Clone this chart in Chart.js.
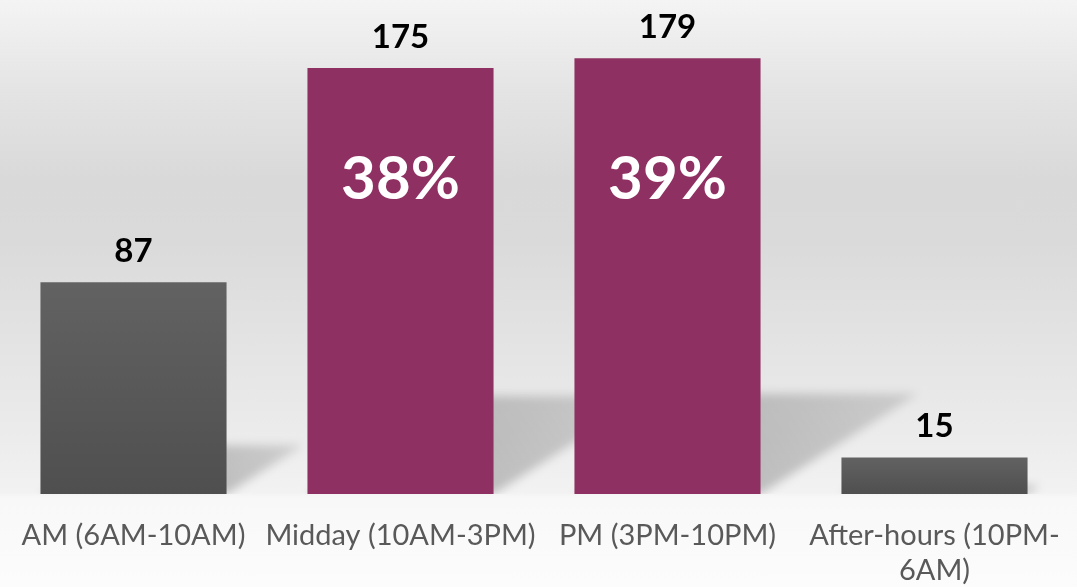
<!DOCTYPE html>
<html>
<head>
<meta charset="utf-8">
<script src="https://cdn.jsdelivr.net/npm/chart.js@4.4.1/dist/chart.umd.min.js"></script>
<style>
  html, body { margin: 0; padding: 0; }
  body {
    width: 1077px;
    height: 587px;
    overflow: hidden;
    background: linear-gradient(to bottom,
      #f4f4f4 0px, #e4e4e4 90px, #d9d9d9 180px, #dadada 240px,
      #e4e4e4 350px, #ececec 440px, #f2f2f2 492px, #f8f8f8 498px, #fcfcfc 587px);
  }
  #wrap { position: relative; width: 1077px; height: 587px; }
</style>
</head>
<body>
<div id="wrap"><canvas id="visits-chart"></canvas></div>
<script>
// Visits by time of day
const categories = ['AM (6AM-10AM)', 'Midday (10AM-3PM)', 'PM (3PM-10PM)', ['After-hours (10PM-', '6AM)']];
const visits = [87, 175, 179, 15];
const highlighted = [false, true, true, false];

const total = visits.reduce((a, b) => a + b, 0);
const PURPLE = '#8e3062';

function barColor(context) {
    const i = context.dataIndex;
    if (highlighted[i]) return PURPLE;
    const { chart } = context;
    if (!chart.chartArea) return '#595959';
    const y = chart.scales.y;
    const g = chart.ctx.createLinearGradient(0, y.getPixelForValue(visits[i]), 0, y.getPixelForValue(0));
    g.addColorStop(0, '#626262');
    g.addColorStop(1, '#4f4f4f');
    return g;
}

// soft perspective shadows cast back onto the "floor"
const floorShadows = {
    id: 'floorShadows',
    beforeDatasetsDraw(chart) {
        const { ctx, chartArea } = chart;
        ctx.save();
        ctx.beginPath();
        ctx.rect(0, 0, chart.width, chartArea.bottom);
        ctx.clip();
        ctx.filter = 'blur(5px)';
        chart.getDatasetMeta(0).data.forEach((bar) => {
            const h = bar.base - bar.y;
            const left = bar.x - bar.width / 2;
            const right = bar.x + bar.width / 2;
            const dx = 0.36 * h;
            const dy = 0.23 * h;
            const g = ctx.createLinearGradient(right, bar.base, right + dx, bar.base - dy);
            g.addColorStop(0, 'rgba(0,0,0,0.21)');
            g.addColorStop(1, 'rgba(0,0,0,0.12)');
            ctx.fillStyle = g;
            ctx.beginPath();
            ctx.moveTo(left, bar.base);
            ctx.lineTo(right, bar.base);
            ctx.lineTo(right + dx, bar.base - dy);
            ctx.lineTo(left + dx, bar.base - dy);
            ctx.closePath();
            ctx.fill();
        });
        ctx.restore();
    }
};

const barLabels = {
    id: 'barLabels',
    afterDatasetsDraw(chart) {
        const { ctx, scales: { y } } = chart;
        ctx.save();
        ctx.textAlign = 'center';
        ctx.textBaseline = 'alphabetic';
        chart.getDatasetMeta(0).data.forEach((bar, i) => {
            ctx.fillStyle = '#000000';
            ctx.font = 'bold 33px Lato';
            ctx.fillText(String(visits[i]), bar.x, bar.y - 20);
            if (highlighted[i]) {
                const pct = Math.round((visits[i] / total) * 100) + '%';
                ctx.fillStyle = '#ffffff';
                ctx.font = 'bold 60px Lato';
                ctx.fillText(pct, bar.x, y.getPixelForValue(121));
            }
        });
        ctx.restore();
    }
};

new Chart(document.getElementById('visits-chart'), {
    type: 'bar',
    data: {
        labels: categories,
        datasets: [{
            data: visits,
            backgroundColor: barColor,
            borderWidth: 0,
            categoryPercentage: 1,
            barPercentage: 0.697,
        }],
    },
    options: {
        animation: false,
        responsive: true,
        maintainAspectRatio: false,
        layout: { padding: { top: 7, right: 9, left: 0, bottom: 0 } },
        plugins: {
            legend: { display: false },
            tooltip: { enabled: false },
        },
        scales: {
            x: {
                grid: { display: false, drawTicks: false },
                border: { display: false },
                ticks: {
                    color: '#595959',
                    font: { family: 'Lato', size: 29 },
                    padding: 24,
                    maxRotation: 0,
                    minRotation: 0,
                    autoSkip: false,
                },
                afterFit(scale) {
                    scale.height = 93;
                    scale.paddingLeft = 0;
                    scale.paddingRight = 0;
                },
            },
            y: {
                display: false,
                min: 0,
                max: 200,
            },
        },
    },
    plugins: [floorShadows, barLabels],
});
</script>
</body>
</html>
